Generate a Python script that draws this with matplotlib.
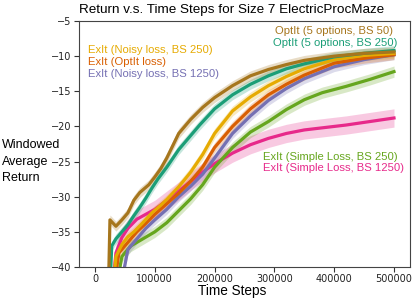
import matplotlib
matplotlib.use("Agg")
import matplotlib.pyplot as plt
import numpy as np

# values (x in time steps, y = windowed average return)
brown_x = [22000, 25000, 35000, 45000, 55000, 65000, 75000, 90000, 100000, 110000, 120000,
           140000, 160000, 180000, 200000, 230000, 260000, 290000, 320000, 350000, 400000,
           450000, 500000]
brown_y = [-45, -33.3, -34.2, -33.3, -32.3, -30.5, -29.4, -28.3, -27.2, -26.0, -24.5,
           -21.0, -19.0, -17.3, -15.9, -14.2, -12.8, -11.9, -11.2, -10.6, -10.0,
           -9.6, -9.4]

teal_x = [24000, 28000, 35000, 45000, 55000, 65000, 75000, 85000, 95000, 105000, 120000,
          140000, 150000, 175000, 200000, 230000, 260000, 290000, 320000, 350000, 400000,
          450000, 500000]
teal_y = [-45, -37.0, -36.0, -35.0, -34.0, -32.7, -31.5, -30.2, -28.8, -27.5, -25.8,
          -23.3, -22.3, -19.8, -17.5, -15.5, -14.0, -12.8, -11.8, -11.1, -10.1,
          -9.6, -9.2]

yellow_x = [28000, 35000, 45000, 55000, 65000, 80000, 95000, 110000, 120000, 140000,
            160000, 180000, 200000, 230000, 260000, 290000, 320000, 350000, 400000,
            450000, 500000]
yellow_y = [-45, -38.5, -36.8, -35.7, -35.0, -33.7, -32.3, -31.2, -30.4, -28.6,
            -26.5, -24.0, -21.0, -17.8, -15.8, -14.2, -12.9, -11.8, -10.5,
            -9.9, -9.6]

orange_x = [28000, 40000, 55000, 70000, 85000, 100000, 120000, 140000, 160000, 180000,
            200000, 230000, 260000, 290000, 320000, 350000, 400000, 450000, 500000]
orange_y = [-45, -38.0, -36.5, -35.0, -33.8, -32.5, -31.0, -29.5, -27.8, -25.8,
            -23.0, -20.0, -17.5, -15.5, -14.0, -12.7, -11.0, -10.3, -9.8]

purple_x = [38000, 55000, 70000, 85000, 100000, 120000, 140000, 160000, 180000, 200000,
            230000, 260000, 290000, 320000, 350000, 400000, 450000, 500000]
purple_y = [-45, -37.5, -36.0, -34.5, -33.3, -31.8, -30.0, -28.5, -26.8, -24.5,
            -21.0, -18.5, -16.3, -14.6, -13.2, -11.5, -10.5, -9.8]

green_x = [31000, 45000, 60000, 80000, 100000, 120000, 140000, 160000, 180000, 200000,
           230000, 260000, 290000, 320000, 350000, 380000, 420000, 460000, 500000]
green_y = [-45, -38.5, -37.0, -36.0, -35.0, -33.7, -32.0, -30.3, -28.3, -25.8,
           -23.0, -20.8, -19.3, -17.6, -16.2, -15.2, -14.3, -13.3, -12.2]

pink_x = [27000, 35000, 45000, 55000, 70000, 85000, 100000, 120000, 140000, 160000,
          180000, 200000, 230000, 260000, 290000, 320000, 350000, 380000, 420000,
          460000, 500000]
pink_y = [-45, -38.0, -35.8, -34.5, -33.2, -32.5, -31.8, -30.5, -29.2, -27.8,
          -26.5, -25.3, -23.8, -22.6, -21.7, -21.0, -20.5, -20.2, -19.8,
          -19.3, -18.8]

series = [
    ("pink", pink_x, pink_y, "#e7298a", 1.3),
    ("green", green_x, green_y, "#66a61e", 0.8),
    ("purple", purple_x, purple_y, "#7570b3", 0.7),
    ("orange", orange_x, orange_y, "#d95f02", 0.7),
    ("yellow", yellow_x, yellow_y, "#e6ab02", 0.7),
    ("teal", teal_x, teal_y, "#1b9e77", 0.7),
    ("brown", brown_x, brown_y, "#a6761d", 0.7),
]

labels = [
    ("OptIt (5 options, BS 50)", "#a6761d", 393, 31, "right"),
    ("OptIt (5 options, BS 250)", "#1b9e77", 397, 43, "right"),
    ("ExIt (Noisy loss, BS 250)", "#e6ab02", 88, 50, "left"),
    ("ExIt (OptIt loss)", "#d95f02", 88, 62, "left"),
    ("ExIt (Noisy loss, BS 1250)", "#7570b3", 88, 74, "left"),
    ("ExIt (Simple Loss, BS 250)", "#66a61e", 263, 157, "left"),
    ("ExIt (Simple Loss, BS 1250)", "#e7298a", 263, 168, "left"),
]

W, H = 415, 300
fig = plt.figure(figsize=(W / 100, H / 100), dpi=100)
ax = fig.add_axes([79 / W, 1 - 267 / H, (410 - 79) / W, (267 - 21) / H])

for name, xs, ys, col, band in series:
    xs = np.array(xs, dtype=float)
    ys = np.array(ys, dtype=float)
    ax.fill_between(xs, ys - band, ys + band, color=col, alpha=0.25, lw=0)
    ax.plot(xs, ys, color=col, lw=2.3)

ax.set_xlim(-26750, 526750)
ax.set_ylim(-40, -5)
ax.set_xticks([0, 100000, 200000, 300000, 400000, 500000])
ax.set_yticks([-40, -35, -30, -25, -20, -15, -10, -5])
ax.tick_params(labelsize=7.0, length=3.5, pad=1.8, color="#333333", labelcolor="#222222")
for s in ax.spines.values():
    s.set_color("#444444")

sans = ["Liberation Sans", "DejaVu Sans"]
for text, col, px, py, ha in labels:
    fig.text(px / W, 1 - py / H, text, color=col, fontsize=8.1, ha=ha, va="center",
             family=sans)

fig.text(232 / W, 1 - 10 / H, "Return v.s. Time Steps for Size 7 ElectricProcMaze",
         fontsize=9.7, ha="center", va="center", family=sans)
# y label: three horizontal lines left of the tick labels
for word, py in [("Windowed", 145), ("Average", 162), ("Return", 178)]:
    fig.text(2 / W, 1 - py / H, word, fontsize=9.0, ha="left", va="center", family=sans)
fig.text(232 / W, 1 - 291 / H, "Time Steps", fontsize=9.8, ha="center", va="center",
         family=sans)

fig.savefig("out.png", dpi=100)
